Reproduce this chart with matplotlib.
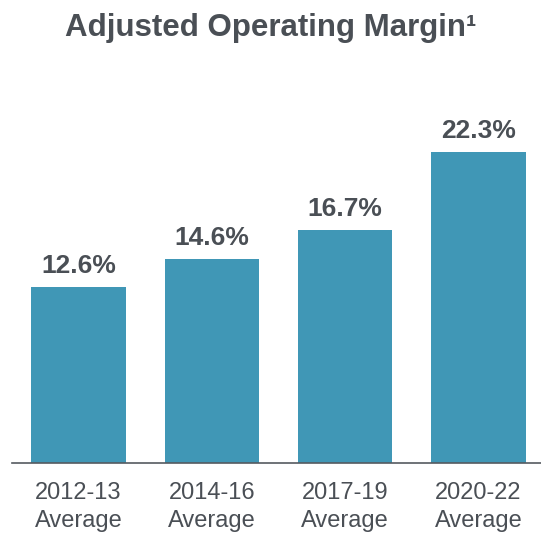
import matplotlib.pyplot as plt

periods = ['2012-13\nAverage', '2014-16\nAverage', '2017-19\nAverage', '2020-22\nAverage']
margins = [12.6, 14.6, 16.7, 22.3]
value_labels = ['12.6%', '14.6%', '16.7%', '22.3%']

plt.rcParams['font.family'] = ['Liberation Sans', 'DejaVu Sans']
text_color = '#4a4f55'
bar_color = '#4097b6'

fig = plt.figure(figsize=(5.41, 5.34), dpi=100)
ax = fig.add_axes([12 / 541, 71 / 534, 529 / 541, (463 - 113.8) / 534])

x = range(len(margins))
bars = ax.bar(x, margins, width=0.71, color=bar_color)
for b, lab in zip(bars, value_labels):
    ax.annotate(lab, (b.get_x() + b.get_width() / 2, b.get_height()),
                xytext=(0, 10), textcoords='offset points', ha='center', va='baseline',
                fontsize=19, fontweight='bold', color=text_color)

ax.set_xlim(-0.5, 3.47)
ax.set_ylim(0, 25)
ax.set_xticks(list(x))
ax.set_xticklabels(periods, fontsize=17, color=text_color, linespacing=1.3)
ax.tick_params(axis='x', length=0, pad=14)
ax.set_yticks([])
for s in ['top', 'right', 'left']:
    ax.spines[s].set_visible(False)
ax.spines['bottom'].set_color('#555a60')
ax.spines['bottom'].set_linewidth(1.2)

fig.text(0.5, 1 - 36 / 534, 'Adjusted Operating Margin¹', ha='center', va='baseline',
         fontsize=22.5, fontweight='bold', color=text_color)

fig.savefig('out.png', dpi=100)
